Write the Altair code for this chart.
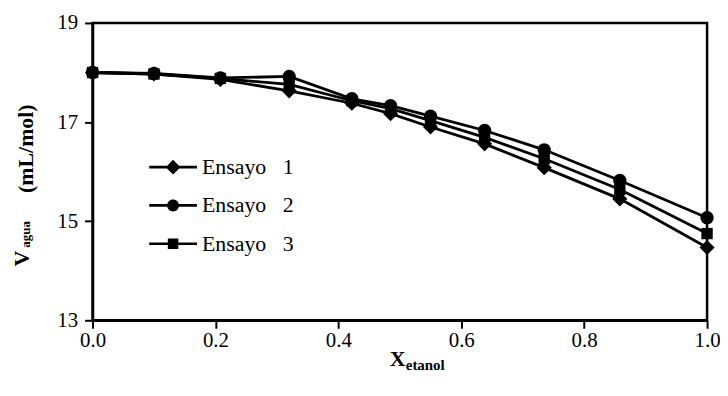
import altair as alt
import pandas as pd

x_etanol = [0.0, 0.10, 0.208, 0.32, 0.422, 0.485, 0.55, 0.638, 0.735, 0.858, 1.0]
ensayo1 = [18.0, 17.97, 17.86, 17.63, 17.38, 17.17, 16.90, 16.56, 16.08, 15.45, 14.47]
ensayo2 = [18.0, 17.98, 17.89, 17.92, 17.47, 17.33, 17.12, 16.83, 16.44, 15.82, 15.07]
ensayo3 = [18.0, 17.97, 17.88, 17.76, 17.43, 17.27, 17.03, 16.69, 16.26, 15.64, 14.75]
series = ["Ensayo 1", "Ensayo 2", "Ensayo 3"]
x_ticks = [0.0, 0.2, 0.4, 0.6, 0.8, 1.0]
y_ticks = [13, 15, 17, 19]

rows = []
for name, vals in zip(series, [ensayo1, ensayo2, ensayo3]):
    for xv, yv in zip(x_etanol, vals):
        rows.append({"x": xv, "y": yv, "serie": name})
df = pd.DataFrame(rows)

FONT = "Liberation Serif, Times New Roman, serif"

xenc = alt.X("x:Q", scale=alt.Scale(domain=[0, 1], nice=False),
             axis=alt.Axis(values=x_ticks, format=".1f", title=None, labelFlush=False,
                           labelFont=FONT, labelFontSize=21, labelColor="black", labelPadding=1))
yenc = alt.Y("y:Q", scale=alt.Scale(domain=[13, 19], nice=False, zero=False),
             axis=alt.Axis(values=y_ticks, format="d", title=None, labelFlush=False,
                           labelFont=FONT, labelFontSize=21, labelColor="black", labelPadding=7))

base = alt.Chart(df)

lines = base.mark_line(color="black", strokeWidth=2.8).encode(
    x=xenc, y=yenc, detail="serie:N")

points = base.mark_point(filled=True, color="black", opacity=1).encode(
    x=xenc, y=yenc,
    shape=alt.Shape("serie:N", scale=alt.Scale(domain=series, range=["diamond", "circle", "square"]), legend=None),
    size=alt.Size("serie:N", scale=alt.Scale(domain=series, range=[230, 130, 140]), legend=None),
)

t = 0.055
bar = f"M-1,-{t}L1,-{t}L1,{t}L-1,{t}Z"
dia = "M0,-0.31L0.31,0L0,0.31L-0.31,0Z"
r = 0.25
circ = f"M-{r},0A{r},{r} 0 1,1 {r},0A{r},{r} 0 1,1 -{r},0Z"
s = 0.22
sq = f"M-{s},-{s}L{s},-{s}L{s},{s}L-{s},{s}Z"
paths = [bar + dia, bar + circ, bar + sq]

nbsp = "\u00a0"
legend_layer = base.mark_point(filled=True, color="black", opacity=1).encode(
    x=xenc, y=yenc,
    shape=alt.Shape("serie:N", scale=alt.Scale(domain=series, range=paths),
                    legend=alt.Legend(orient="none", legendX=57, legendY=121, title=None,
                                      symbolSize=2304, symbolFillColor="black",
                                      symbolOpacity=1, symbolStrokeColor="black",
                                      symbolStrokeWidth=0, labelFont=FONT, labelFontSize=22,
                                      labelColor="black", labelOffset=5, rowPadding=3.5,
                                      padding=0,
                                      labelExpr=f"replace(datum.label, ' ', '{nbsp*3}')")),
).transform_filter("false")

tdf = pd.DataFrame({"a": [1]})
def txt(text, x, y, size, angle=0, baseline="alphabetic"):
    kw = dict(text=text, font=FONT, fontWeight="bold", fontSize=size, color="black",
              align="left", baseline=baseline)
    if angle:
        kw["angle"] = angle
    return alt.Chart(tdf).mark_text(**kw).encode(x=alt.value(x), y=alt.value(y))

titles = [
    txt("X", 299, 345, 22),
    txt("etanol", 315, 349, 15),
    txt("V", -64, 245, 22, angle=270),
    txt("agua", -63, 226, 13, angle=270),
    txt("(mL/mol)", -60, 171, 22, angle=270),
]

chart = alt.layer(lines, points, legend_layer, *titles).resolve_scale(
    shape="independent", size="independent"
).properties(
    width=618, height=299,
    autosize=alt.AutoSizeParams(type="none"),
    padding={"left": 85, "top": 14, "right": 13, "bottom": 58},
    background="white",
).configure(font=FONT).configure_view(
    stroke="black", strokeWidth=2.5
).configure_axis(
    grid=False, domainColor="black", domainWidth=2.5, tickColor="black", tickWidth=2,
    tickSize=8, labelFont=FONT, labelFontSize=21, labelColor="black",
)

chart.save("out.html", embed_options={"renderer": "svg", "actions": False})
